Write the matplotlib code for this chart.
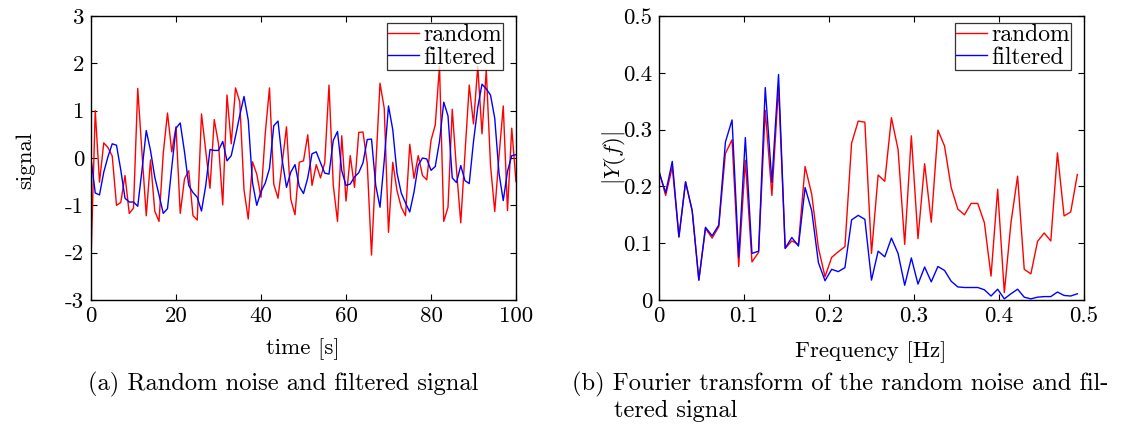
import numpy as np
import matplotlib
matplotlib.use("Agg")
import matplotlib.pyplot as plt

plt.rcParams["font.family"] = "cmr10"
plt.rcParams["mathtext.fontset"] = "cm"
plt.rcParams["axes.unicode_minus"] = False
plt.rcParams["axes.formatter.use_mathtext"] = False

# time series, 1 s sampling (only the first 100 s are shown)
time_s = np.arange(0, 101)
random_signal = [
    -2.15, 1.00, -0.51, 0.32, 0.22, 0.04, -1.00, -0.94, -0.37, -1.17,
    -1.06, 1.47, 0.10, -1.22, -0.04, -1.12, -1.34, 0.10, 0.95, 0.13,
    0.66, -1.17, -0.44, -0.27, -1.22, -1.31, 0.93, 0.15, -0.64, 0.81,
    0.30, -0.99, 1.33, 0.30, 1.48, 1.19, -0.67, -1.29, -0.08, -0.34,
    -0.83, 0.52, 1.48, -0.55, -0.85, -0.10, 0.66, -0.87, -1.20, -0.09,
    -0.06, 0.49, -0.58, -0.14, -0.42, -0.10, 1.54, -0.57, -1.34, 0.47,
    -0.91, 0.05, -0.62, 0.54, 0.55, -0.12, -2.05, -0.20, 1.58, 1.05,
    -1.57, -0.09, -0.69, -1.04, -1.22, 0.29, -0.43, 0.05, -0.37, -0.46,
    0.37, 0.70, 1.94, -1.34, -1.04, 1.03, -0.25, -1.37, 0.10, 1.54,
    0.72, 1.94, 0.51, 1.86, -0.15, -1.13, 0.03, 1.10, -1.11, 0.63,
    -0.50,
]
filtered_signal = [
    0.00, -0.74, -0.78, -0.30, 0.03, 0.30, 0.27, -0.25, -0.85, -0.93,
    -0.93, -1.02, -0.25, 0.58, 0.16, -0.40, -0.78, -1.17, -1.07, -0.20,
    0.63, 0.74, 0.13, -0.58, -0.73, -0.83, -1.12, -0.58, 0.18, 0.16,
    0.16, 0.35, -0.06, 0.05, 0.46, 0.90, 1.30, 0.80, -0.52, -1.00,
    -0.71, -0.53, -0.22, 0.68, 0.78, -0.05, -0.62, -0.30, -0.14, -0.60,
    -0.75, -0.42, 0.09, 0.13, -0.10, -0.32, -0.34, 0.37, 0.56, -0.27,
    -0.58, -0.55, -0.40, -0.31, -0.10, 0.39, 0.40, -0.58, -1.04, -0.05,
    1.10, 0.60, -0.32, -0.74, -0.95, -1.14, -0.72, -0.15, 0.00, -0.02,
    -0.26, -0.18, 0.35, 1.18, 0.89, -0.42, -0.52, -0.16, -0.48, -0.54,
    0.35, 1.07, 1.56, 1.46, 1.33, 0.84, -0.32, -0.90, -0.28, 0.05,
    0.07,
]

# single-sided spectrum, 128-point FFT at 1 Hz
freq_hz = np.arange(64) / 128.0
spectrum_random = [
    0.228, 0.184, 0.234, 0.111, 0.208, 0.157, 0.035, 0.126, 0.109, 0.129,
    0.258, 0.282, 0.059, 0.246, 0.067, 0.084, 0.334, 0.184, 0.375, 0.091,
    0.104, 0.098, 0.235, 0.186, 0.092, 0.041, 0.075, 0.085, 0.094, 0.276,
    0.315, 0.313, 0.082, 0.220, 0.209, 0.321, 0.265, 0.098, 0.289, 0.108,
    0.240, 0.137, 0.299, 0.271, 0.198, 0.160, 0.150, 0.170, 0.170, 0.136,
    0.042, 0.195, 0.013, 0.136, 0.218, 0.054, 0.046, 0.103, 0.118, 0.104,
    0.259, 0.148, 0.155, 0.221,
]
spectrum_filtered = [
    0.225, 0.189, 0.244, 0.111, 0.208, 0.157, 0.035, 0.128, 0.113, 0.132,
    0.278, 0.317, 0.075, 0.286, 0.082, 0.086, 0.374, 0.207, 0.397, 0.091,
    0.110, 0.095, 0.198, 0.157, 0.066, 0.034, 0.054, 0.050, 0.057, 0.141,
    0.149, 0.142, 0.035, 0.086, 0.076, 0.109, 0.082, 0.026, 0.074, 0.028,
    0.058, 0.032, 0.059, 0.052, 0.033, 0.023, 0.022, 0.022, 0.022, 0.018,
    0.007, 0.019, 0.002, 0.011, 0.019, 0.005, 0.002, 0.005, 0.006, 0.006,
    0.014, 0.008, 0.007, 0.011,
]

left_xticks = [0, 20, 40, 60, 80, 100]
left_yticks = [-3, -2, -1, 0, 1, 2, 3]
right_xticks = [0, 0.1, 0.2, 0.3, 0.4, 0.5]
right_yticks = [0, 0.1, 0.2, 0.3, 0.4, 0.5]

W, H = 1121, 428
FS = 16.5
CAP_FS = 17.6
fig = plt.figure(figsize=(W / 100, H / 100), dpi=100)
ax1 = fig.add_axes([91 / W, 1 - 300 / H, 425 / W, 284 / H])
ax2 = fig.add_axes([659 / W, 1 - 300 / H, 425 / W, 284 / H])


def style(ax):
    ax.tick_params(direction="in", top=True, right=True, length=4.5,
                   width=0.8, labelsize=FS, pad=5)
    for s in ax.spines.values():
        s.set_linewidth(1.0)


def add_legend(ax):
    leg = ax.legend(loc="upper right", bbox_to_anchor=(0.97, 0.975),
                    fontsize=17, frameon=True, fancybox=False,
                    borderpad=0.05, labelspacing=0.0, handlelength=1.3,
                    handletextpad=0.2, borderaxespad=0.0)
    leg.get_frame().set_edgecolor("black")
    leg.get_frame().set_linewidth(0.9)


ax1.plot(time_s, random_signal, color="red", lw=1.0, label="random")
ax1.plot(time_s, filtered_signal, color="blue", lw=1.0, label="filtered")
ax1.set_xlim(0, 100)
ax1.set_ylim(-3, 3)
ax1.set_xticks(left_xticks)
ax1.set_yticks(left_yticks)
ax1.set_xticklabels([str(v) for v in left_xticks])
ax1.set_yticklabels([str(v) for v in left_yticks])
style(ax1)
add_legend(ax1)

ax2.plot(freq_hz, spectrum_random, color="red", lw=1.0, label="random")
ax2.plot(freq_hz, spectrum_filtered, color="blue", lw=1.0, label="filtered")
ax2.set_xlim(0, 0.5)
ax2.set_ylim(0, 0.5)
ax2.set_xticks(right_xticks)
ax2.set_yticks(right_yticks)
ax2.set_xticklabels([f"{v:g}" for v in right_xticks])
ax2.set_yticklabels([f"{v:g}" for v in right_yticks])
style(ax2)
add_legend(ax2)

# axis titles and sub-captions
fig.text(25 / W, 1 - 160 / H, "signal", rotation=90, ha="center",
         va="center", fontsize=FS)
fig.text(614 / W, 1 - 158 / H, r"$|Y(f)|$", rotation=90, ha="center",
         va="center", fontsize=FS)
fig.text(303 / W, 1 - 349 / H, "time [s]", ha="center", va="center",
         fontsize=FS)
fig.text(871 / W, 1 - 352 / H, "Frequency [Hz]", ha="center", va="center",
         fontsize=FS)
fig.text(88 / W, 1 - 390 / H, "(a) Random noise and filtered signal",
         ha="left", va="baseline", fontsize=CAP_FS)
fig.text(572 / W, 1 - 390 / H,
         "(b) Fourier transform of the random noise and fil-",
         ha="left", va="baseline", fontsize=CAP_FS)
fig.text(614 / W, 1 - 417 / H, "tered signal", ha="left", va="baseline",
         fontsize=CAP_FS)

fig.savefig("out.png", dpi=100)
